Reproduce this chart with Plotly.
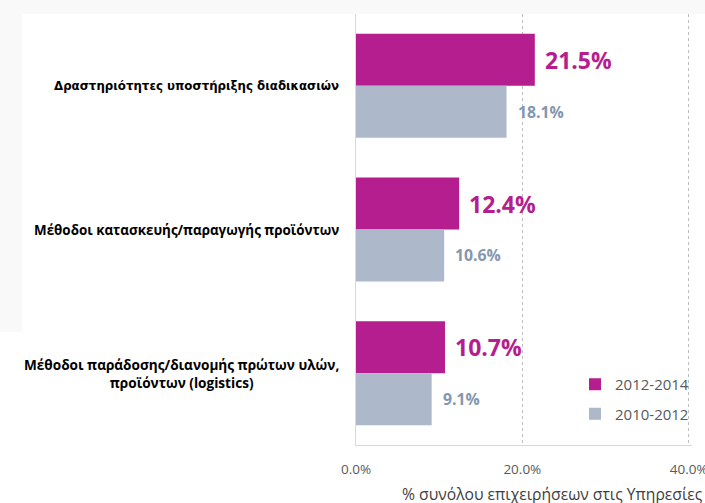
import plotly.graph_objects as go

categories = [
    "Δραστηριότητες υποστήριξης διαδικασιών",
    "Μέθοδοι κατασκευής/παραγωγής προϊόντων",
    "Μέθοδοι παράδοσης/διανομής πρώτων υλών,<br>προϊόντων (logistics)",
]
cat_keys = ["c1", "c2", "c3"]
series_names = ["2012-2014", "2010-2012"]
values_2012_2014 = [21.5, 12.4, 10.7]
values_2010_2012 = [18.1, 10.6, 9.1]
x_ticks = [0, 20, 40]
x_tick_labels = ["0.0%", "20.0%", "40.0%"]
axis_title = "% συνόλου επιχειρήσεων στις Υπηρεσίες"

MAGENTA = "#B41E8E"
GREY = "#ADB9CA"
GREY_TXT = "#8497B0"

W, H = 705, 503
L, R, T, B = 356, 13, 14, 58
X_MAX = 40.4

fig = go.Figure()
fig.add_trace(go.Bar(
    y=cat_keys, x=values_2012_2014, name=series_names[0], orientation="h",
    marker=dict(color=MAGENTA, line=dict(width=0)), legendgroup="a",
))
fig.add_trace(go.Bar(
    y=cat_keys, x=values_2010_2012, name=series_names[1], orientation="h",
    marker=dict(color=GREY, line=dict(width=0)), legendgroup="b",
))

pw = W - L - R
ph = H - T - B

annotations = []
# value labels
for i, k in enumerate(cat_keys):
    annotations.append(dict(
        x=values_2012_2014[i], y=i - 0.18, xref="x", yref="y",
        text="<b>%.1f%%</b>" % values_2012_2014[i], showarrow=False,
        xanchor="left", yanchor="middle", xshift=8,
        font=dict(family="Open Sans", size=23, color=MAGENTA),
    ))
    annotations.append(dict(
        x=values_2010_2012[i], y=i + 0.18, xref="x", yref="y",
        text="<b>%.1f%%</b>" % values_2010_2012[i], showarrow=False,
        xanchor="left", yanchor="middle", xshift=9,
        font=dict(family="Open Sans", size=15.8, color=GREY_TXT),
    ))
# category labels
cat_fonts = [
    dict(family="DejaVu Sans", size=11.8, color="#000000"),
    dict(family="Open Sans", size=13.4, color="#000000"),
    dict(family="Open Sans", size=13.6, color="#000000"),
]
for i, c in enumerate(categories):
    annotations.append(dict(
        x=(341 - L) / pw, y=i, xref="paper", yref="y",
        text="<b>%s</b>" % c, showarrow=False, align="center",
        xanchor="right", yanchor="middle",
        font=cat_fonts[i],
    ))
# axis title
annotations.append(dict(
    x=(552 - L) / pw, y=(H - B - 494) / ph,
    xref="paper", yref="paper", text=axis_title, showarrow=False,
    xanchor="center", yanchor="middle",
    font=dict(family="Open Sans", size=15.7, color="#404040"),
))

shapes = [
    dict(type="rect", xref="paper", yref="paper", layer="below",
         x0=-L / pw, x1=(W - L) / pw, y0=1.0, y1=(H - B) / ph,
         fillcolor="#f9f9f9", line=dict(width=0)),
    dict(type="rect", xref="paper", yref="paper", layer="below",
         x0=-L / pw, x1=(22 - L) / pw, y0=(H - B - 332) / ph, y1=(H - B) / ph,
         fillcolor="#f9f9f9", line=dict(width=0)),
]

fig.update_layout(
    width=W, height=H,
    margin=dict(l=L, r=R, t=T, b=B, pad=0, autoexpand=False),
    paper_bgcolor="white", plot_bgcolor="white",
    barmode="group", bargap=0.276, bargroupgap=0,
    font=dict(family="Open Sans", color="#595959"),
    annotations=annotations, shapes=shapes,
    showlegend=True,
    legend=dict(
        x=(575 - L) / pw, y=(H - B - 368) / ph, xanchor="left", yanchor="top",
        bgcolor="rgba(0,0,0,0)", font=dict(family="Open Sans", size=15, color="#595959"),
        traceorder="grouped", tracegroupgap=7, itemwidth=30,
    ),
    xaxis=dict(
        range=[0, X_MAX], tickvals=x_ticks, ticktext=x_tick_labels,
        showgrid=True, gridcolor="#BFBFBF", griddash="dot", gridwidth=1,
        zeroline=False, showline=True, linecolor="#D9D9D9", linewidth=1,
        ticks="", tickfont=dict(family="Open Sans", size=13.5, color="#595959"),
        ticklabelstandoff=12, ticklabeloverflow="allow", automargin=False,
        fixedrange=True,
    ),
    yaxis=dict(
        categoryorder="array", categoryarray=cat_keys, autorange="reversed",
        showticklabels=False, showgrid=False, zeroline=False,
        showline=True, linecolor="#D9D9D9", linewidth=1, ticks="",
        automargin=False, fixedrange=True,
    ),
)

fig.write_html(
    "out.html",
    config={"displayModeBar": False},
    post_script="document.body.style.margin='0';document.body.style.overflow='hidden';",
)
